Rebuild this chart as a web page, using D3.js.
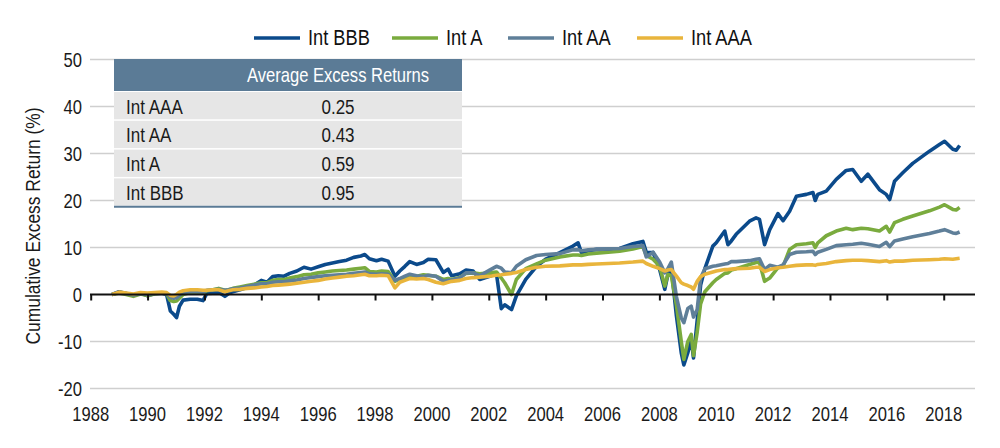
<!DOCTYPE html>
<html>
<head>
<meta charset="utf-8">
<script src="https://cdnjs.cloudflare.com/ajax/libs/d3/7.8.5/d3.min.js"></script>
<style>
  html, body { margin: 0; padding: 0; background: #fff; }
  svg text { font-family: "Liberation Sans", Arial, sans-serif; }
</style>
</head>
<body>
<svg id="chart" width="1000" height="448"></svg>
<script>
// ---- Data ----
const seriesNames = ["Int BBB", "Int A", "Int AA", "Int AAA"];
const tableLabels = ["Int AAA", "Int AA", "Int A", "Int BBB"];
const tableValues = ["0.25", "0.43", "0.59", "0.95"];
const tableTitle = "Average Excess Returns";
const yTicks = [-20, -10, 0, 10, 20, 30, 40, 50];
const xTicks = [1988, 1990, 1992, 1994, 1996, 1998, 2000, 2002, 2004, 2006, 2008, 2010, 2012, 2014, 2016, 2018];

const dates = [
  1988.75, 1989.0, 1989.25, 1989.5, 1989.75,
  1990.0, 1990.25, 1990.5, 1990.67, 1990.8, 1990.92,
  1991.02, 1991.12, 1991.25, 1991.5, 1991.75, 1991.95,
  1992.08, 1992.3, 1992.5, 1992.72, 1992.85,
  1993.0, 1993.25, 1993.5, 1993.75,
  1994.0, 1994.2, 1994.4, 1994.6, 1994.8,
  1995.0, 1995.25, 1995.5, 1995.75,
  1996.0, 1996.25, 1996.5, 1996.75,
  1997.0, 1997.25, 1997.5, 1997.64, 1997.8,
  1998.05, 1998.23, 1998.46, 1998.7, 1998.87,
  1999.05, 1999.22, 1999.46, 1999.7, 1999.87,
  2000.14, 2000.4, 2000.57, 2000.69, 2000.98,
  2001.2, 2001.45, 2001.68,
  2002.03, 2002.27, 2002.44, 2002.56, 2002.8, 2002.97,
  2003.3, 2003.68,
  2004.0, 2004.5, 2004.96,
  2005.14, 2005.26, 2005.5, 2005.79,
  2006.2, 2006.6,
  2007.07, 2007.42, 2007.54, 2007.78,
  2008.01, 2008.19, 2008.3, 2008.42, 2008.6, 2008.77, 2008.86,
  2009.0, 2009.12, 2009.2, 2009.33, 2009.45, 2009.6, 2009.88,
  2010.0, 2010.3, 2010.41, 2010.53, 2010.7,
  2011.17, 2011.4, 2011.52, 2011.7, 2011.88,
  2012.17, 2012.35, 2012.58, 2012.82,
  2013.17, 2013.4, 2013.48, 2013.57, 2013.87,
  2014.22, 2014.57, 2014.8,
  2015.1, 2015.33, 2015.74, 2015.98,
  2016.1, 2016.27, 2016.56, 2016.91,
  2017.5, 2017.85,
  2018.03, 2018.32, 2018.44, 2018.56
];

const intBBB = [
  0, 0.6, 0.2, -0.2, 0.3,
  -0.3, 0.2, 0.3, 0.0, -3.5, -4.2,
  -4.9, -2.5, -1.2, -1.0, -1.0, -1.3,
  0.2, 0.3, 0.5, -0.4, 0.2,
  0.6, 1.0, 1.5, 2.0,
  3.0, 2.6, 3.8, 4.0, 3.9,
  4.5, 5.0, 5.8, 5.4,
  5.9, 6.4, 6.7, 7.0,
  7.3, 7.9, 8.2, 8.5, 7.6,
  7.2, 7.5, 7.1, 3.9, 5.0,
  6.0, 7.0, 6.4, 6.8, 7.5,
  7.4, 4.7, 5.4, 4.0, 4.4,
  5.2, 5.0, 3.2,
  3.9, 4.4, -3.0, -2.2, -3.2, -0.3,
  3.2, 6.0,
  7.5, 8.9, 10.3,
  11.0, 8.9, 9.3, 9.6,
  9.6, 9.8,
  10.8, 11.3, 9.0, 8.9,
  5.3, 1.1, 4.3, 5.6, -4.6, -12.4, -15.0,
  -12.4, -9.5, -13.5, -5.5, 2.0, 5.5, 10.3,
  11.0, 13.5, 10.6, 11.4, 12.8,
  15.6, 16.3, 16.0, 10.6, 13.8,
  17.2, 15.7, 17.7, 20.9,
  21.3, 21.7, 20.0, 21.3, 22.0,
  24.5, 26.4, 26.6,
  24.1, 25.6, 22.3, 21.3,
  20.2, 24.1, 25.9, 27.9,
  30.5, 31.9,
  32.6, 30.9, 30.7, 31.7
];

const intA = [
  0, 0.3, 0, -0.4, 0.1,
  -0.2, 0.1, 0.3, 0.2, -1.3, -1.5,
  -1.4, -0.8, 0, 0.4, 0.4, 0.3,
  0.8, 1.0, 1.3, 0.9, 1.0,
  1.3, 1.6, 1.9, 2.2,
  2.5, 2.5, 3.0, 3.2, 3.2,
  3.5, 3.8, 4.2, 4.3,
  4.6, 4.8, 5.0, 5.1,
  5.2, 5.4, 5.6, 5.7, 4.9,
  4.8, 5.0, 4.9, 2.8, 3.3,
  3.7, 3.9, 3.9, 4.2, 4.1,
  3.9, 3.2, 3.4, 3.2, 3.6,
  4.5, 4.6, 4.4,
  4.6, 4.8, 3.5, 2.5, 0.0, 3.2,
  5.5, 6.5,
  7.3, 8.0, 8.4,
  8.4, 8.3, 8.6, 8.8,
  9.0, 9.2,
  9.7, 10.2, 8.3, 7.5,
  6.0, 1.8, 4.3, 4.0, -2.3, -10.0, -13.8,
  -10.0, -8.5, -13.0, -8.0, -2.0, 0.6, 2.5,
  3.2, 4.5, 4.6, 5.2, 5.5,
  6.4, 6.8, 6.8, 2.8, 3.5,
  5.7, 6.0, 9.6, 10.6,
  10.8, 11.0, 10.0, 11.0, 12.5,
  13.5, 14.1, 13.8,
  14.1, 14.0, 13.5, 14.5,
  13.3, 15.3, 16.0, 16.7,
  17.8, 18.6,
  19.1, 18.1, 18.0, 18.5
];

const intAA = [
  0, 0.5, 0.2, -0.1, 0.2,
  0, 0.2, 0.3, 0.2, -0.6, -0.8,
  -0.7, -0.2, 0.4, 0.6, 0.6, 0.5,
  0.9, 1.0, 1.1, 0.9, 1.0,
  1.2, 1.4, 1.7, 2.0,
  2.3, 2.3, 2.6, 2.7, 2.7,
  2.9, 3.1, 3.4, 3.6,
  3.8, 4.0, 4.1, 4.2,
  4.3, 4.5, 4.7, 4.8, 4.4,
  4.3, 4.4, 4.3, 3.0, 3.4,
  3.9, 4.3, 4.0, 3.8, 4.1,
  3.9, 2.8, 3.0, 3.1, 3.5,
  4.6, 4.6, 4.0,
  5.2, 6.0, 5.6, 4.8, 4.6, 6.0,
  7.4, 8.3,
  8.5, 8.7, 9.5,
  9.5, 9.3, 9.5, 9.6,
  9.7, 9.8,
  10.2, 10.4, 8.0, 9.0,
  6.9, 4.6, 5.5, 6.9, -0.5, -5.0, -6.0,
  -3.0, -2.5, -4.8, -3.2, 3.5, 5.5, 6.0,
  6.1, 6.5, 6.6, 7.0, 7.0,
  7.2, 7.5, 7.6, 5.3, 6.2,
  5.8, 6.3, 8.5, 9.0,
  9.1, 9.2, 8.5, 9.0, 9.6,
  10.4, 10.6, 10.7,
  10.9, 10.7, 10.2, 11.1,
  10.2, 11.4, 11.8, 12.3,
  13.0, 13.5,
  13.8, 13.1, 13.0, 13.3
];

const intAAA = [
  0, 0.5, 0.3, 0.1, 0.4,
  0.3, 0.4, 0.5, 0.4, -0.2, -0.3,
  0, 0.5, 0.8, 1.0, 1.0, 0.9,
  0.9, 1.0, 1.0, 0.6, 0.8,
  1.0, 1.1, 1.3, 1.4,
  1.6, 1.7, 1.9, 2.0, 2.1,
  2.2, 2.4, 2.6, 2.8,
  3.0, 3.3, 3.5, 3.7,
  3.9, 4.0, 4.2, 4.3, 4.0,
  4.0, 4.1, 4.0, 1.4, 2.6,
  3.0, 3.4, 3.3, 3.4, 3.2,
  2.6, 2.3, 2.6, 2.8, 3.0,
  3.4, 3.6, 3.7,
  3.9, 4.1, 4.2, 4.3, 4.5, 4.7,
  5.3, 5.8,
  6.0, 6.1, 6.3,
  6.3, 6.3, 6.4, 6.5,
  6.6, 6.7,
  6.9, 7.1, 6.6, 6.0,
  5.5, 5.0, 5.2, 5.3, 3.9, 2.5, 2.2,
  1.9, 1.6, 1.1, 2.8, 3.8, 4.3, 4.8,
  5.0, 5.3, 5.3, 5.4, 5.5,
  5.6, 5.8, 5.8, 4.9, 5.3,
  5.7, 5.8, 6.0, 6.2,
  6.3, 6.3, 6.2, 6.4, 6.6,
  7.0, 7.2, 7.3,
  7.3, 7.2, 7.0, 7.2,
  6.9, 7.1, 7.1, 7.3,
  7.4, 7.5,
  7.6, 7.5, 7.6, 7.7
];

const seriesValues = [intBBB, intA, intAA, intAAA];
const seriesColors = ["#0b4a8b", "#7aab3e", "#5f7f99", "#e9b53c"];

// ---- Layout ----
const SX = 0.83; // horizontal condensing for the narrow typeface look
const svg = d3.select("#chart");
const plotLeft = 90, plotRight = 975, plotTop = 59.5, plotBottom = 388.5;

const x = d3.scaleLinear().domain([1988, 2019.1]).range([90.7, plotRight]);
const y = d3.scaleLinear().domain([-20, 50]).range([plotBottom, plotTop]);

function label(parent, px, py, str, size, anchor, fill, extra) {
  return parent.append("text")
    .attr("transform", `translate(${px},${py})${extra || ""} scale(${SX},1)`)
    .attr("dy", "0.35em")
    .attr("text-anchor", anchor)
    .attr("font-size", size)
    .attr("fill", fill)
    .text(str);
}

// gridlines
svg.append("g").selectAll("line").data(yTicks.filter(d => d !== 0)).join("line")
  .attr("x1", plotLeft).attr("x2", plotRight)
  .attr("y1", d => y(d)).attr("y2", d => y(d))
  .attr("stroke", "#cfcfcf").attr("stroke-width", 1.5);

// y tick labels
svg.append("g").selectAll("text").data(yTicks).join("text")
  .attr("transform", d => `translate(82,${y(d)}) scale(${SX},1)`)
  .attr("dy", "0.35em")
  .attr("text-anchor", "end").attr("font-size", 20).attr("fill", "#1a1a1a")
  .text(d => d);

// y axis title
label(svg, 33, 226, "Cumulative Excess Return (%)", 21, "middle", "#1a1a1a", " rotate(-90)");

// lines
const line = d3.line().x((d, i) => x(dates[i])).y(d => y(d));
svg.append("g").selectAll("path").data(seriesValues).join("path")
  .attr("d", d => line(d))
  .attr("fill", "none")
  .attr("stroke", (d, i) => seriesColors[i])
  .attr("stroke-width", 3.6)
  .attr("stroke-linejoin", "round");

// x axis at zero
const xAxis = d3.axisBottom(x).tickValues(xTicks).tickSize(6).tickFormat(d3.format("d"));
const gx = svg.append("g").attr("transform", `translate(0,${y(0)})`).call(xAxis);
gx.select(".domain").attr("d", `M${plotLeft},0H${plotRight}`).attr("stroke", "#111").attr("stroke-width", 2);
gx.selectAll(".tick line").attr("stroke", "#111").attr("stroke-width", 2);
gx.selectAll(".tick text").remove();

// x labels at bottom
svg.append("g").selectAll("text").data(xTicks).join("text")
  .attr("transform", d => `translate(${x(d)},414) scale(${SX},1)`)
  .attr("dy", "0.35em")
  .attr("text-anchor", "middle").attr("font-size", 20).attr("fill", "#1a1a1a")
  .text(d => d);

// table
const tX0 = 114, tX1 = 462, headY0 = 59, headY1 = 91, rowH = 28.8;
const tbl = svg.append("g");
tbl.append("rect").attr("x", tX0).attr("y", headY0).attr("width", tX1 - tX0).attr("height", headY1 - headY0).attr("fill", "#5b7b96");
label(tbl, 338, (headY0 + headY1) / 2, tableTitle, 20, "middle", "#fff");
tableLabels.forEach((lab, i) => {
  const ry = headY1 + i * rowH;
  tbl.append("rect").attr("x", tX0).attr("y", ry + 1).attr("width", tX1 - tX0).attr("height", rowH - 1.5).attr("fill", "#e6e6e6");
  label(tbl, 126, ry + rowH / 2 + 1, lab, 20.5, "start", "#1a1a1a");
  label(tbl, 338, ry + rowH / 2 + 1, tableValues[i], 20.5, "middle", "#1a1a1a");
});
tbl.append("line").attr("x1", tX0).attr("x2", tX1)
  .attr("y1", headY1 + 4 * rowH + 0.5).attr("y2", headY1 + 4 * rowH + 0.5)
  .attr("stroke", "#5b7b96").attr("stroke-width", 2);

// legend
const legX = [254, 392, 508, 637];
const leg = svg.append("g");
seriesNames.forEach((n, i) => {
  leg.append("line").attr("x1", legX[i]).attr("x2", legX[i] + 46).attr("y1", 38).attr("y2", 38)
    .attr("stroke", seriesColors[i]).attr("stroke-width", 3.5);
  label(leg, legX[i] + 54, 37, n, 22, "start", "#111");
});
</script>
</body>
</html>
